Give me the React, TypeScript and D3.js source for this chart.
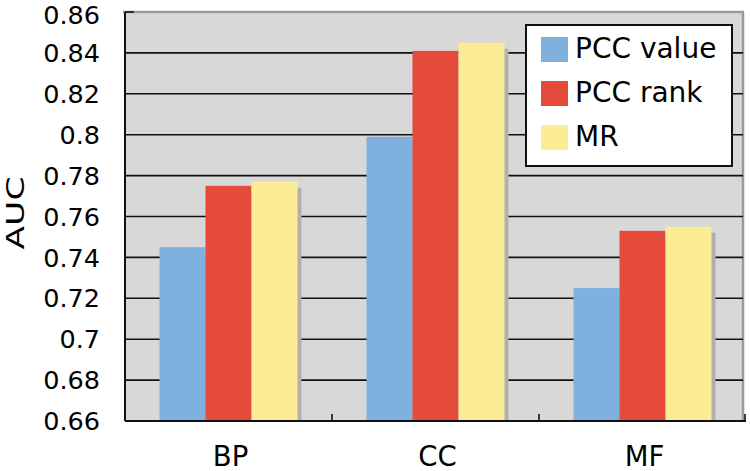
import React from "react";
import * as d3 from "d3";

const categories = ["BP", "CC", "MF"];
const seriesNames = ["PCC value", "PCC rank", "MR"];
const pccValue = [0.745, 0.799, 0.725];
const pccRank = [0.775, 0.841, 0.753];
const mrValues = [0.777, 0.845, 0.755];
const yTicks = [0.66, 0.68, 0.7, 0.72, 0.74, 0.76, 0.78, 0.8, 0.82, 0.84, 0.86];
const seriesColors = ["#80B1DE", "#E44B3B", "#FBEC95"];

const W = 750;
const H = 471;
const X0 = 125;
const X1 = 746;
const YB = 421;
const YT = 12;
const FONT = "'DejaVu Sans', sans-serif";

export default function App() {
  const seriesValues = [pccValue, pccRank, mrValues];
  const x = d3.scaleBand<string>().domain(categories).range([X0, X1]).paddingInner(1 / 3).paddingOuter(1 / 6);
  const xs = d3.scaleBand<string>().domain(seriesNames).range([0, x.bandwidth()]).padding(0);
  const y = d3.scaleLinear().domain([0.66, 0.86]).range([YB, YT]);

  const bars: { cat: string; s: string; v: number; c: string }[] = [];
  categories.forEach((cat, i) => {
    seriesNames.forEach((s, j) => {
      bars.push({ cat, s, v: seriesValues[j][i], c: seriesColors[j] });
    });
  });

  const step = x.step();
  const boundaries = categories.map((_, i) => X0 + step * (i + 1));

  return (
    <svg width={W} height={H} style={{ position: "absolute", left: 0, top: 0, background: "#fff" }}>
      {/* plot background */}
      <rect x={X0} y={YT} width={X1 - X0 - 2} height={YB - YT} fill="#D8D8D8" />
      {/* gray frame top & right */}
      <line x1={X0 - 2} x2={X1 - 2} y1={YT} y2={YT} stroke="#9A9A9A" strokeWidth={2.5} />
      <line x1={X1 - 3} x2={X1 - 3} y1={YT} y2={YB} stroke="#9A9A9A" strokeWidth={2.5} />
      {/* gridlines */}
      {yTicks.filter((t) => t > 0.661 && t < 0.859).map((t) => (
        <line key={t} x1={X0} x2={X1 - 3} y1={y(t)} y2={y(t)} stroke="#111" strokeWidth={1.6} />
      ))}
      {/* top tick */}
      <line x1={X0} x2={X0 + 9} y1={y(0.86)} y2={y(0.86)} stroke="#111" strokeWidth={1.6} />
      {/* bar shadows */}
      {bars.map((b) => (
        <rect key={"sh" + b.cat + b.s} x={(x(b.cat) as number) + (xs(b.s) as number) + 4} y={y(b.v) + 6}
          width={xs.bandwidth()} height={YB - y(b.v) - 6} fill="#B0B0B0" />
      ))}
      {/* bars */}
      {bars.map((b) => (
        <rect key={b.cat + b.s} x={(x(b.cat) as number) + (xs(b.s) as number)} y={y(b.v)}
          width={xs.bandwidth()} height={YB - y(b.v)} fill={b.c} />
      ))}
      {/* axes */}
      <line x1={X0} x2={X0} y1={YT} y2={YB} stroke="#111" strokeWidth={2} />
      <line x1={X0} x2={X1} y1={YB} y2={YB} stroke="#111" strokeWidth={2} />
      {boundaries.map((bx, i) => (
        <line key={i} x1={Math.min(bx, X1 - 1)} x2={Math.min(bx, X1 - 1)} y1={YB} y2={YB - 7} stroke="#111" strokeWidth={1.6} />
      ))}
      {/* y tick labels */}
      {yTicks.map((t) => (
        <text key={"l" + t} x={100} y={Math.max(y(t), 15)} dy="0.36em" textAnchor="end" fontFamily={FONT} fontSize={25.5} fill="#000">
          {d3.format("")(+t.toFixed(2))}
        </text>
      ))}
      {/* x labels */}
      {categories.map((c) => (
        <text key={"c" + c} x={(x(c) as number) + x.bandwidth() / 2 + 2} y={466} textAnchor="middle" fontFamily={FONT} fontSize={27.5} fill="#000">
          {c}
        </text>
      ))}
      {/* y axis title */}
      <text transform="translate(24,213) rotate(-90)" textAnchor="middle" fontFamily={FONT} fontSize={24}
        textLength={73} lengthAdjust="spacingAndGlyphs" fill="#000">
        AUC
      </text>
      {/* legend */}
      <rect x={526} y={25} width={206} height={141} fill="#fff" stroke="#111" strokeWidth={2} />
      {seriesNames.map((s, j) => (
        <g key={"lg" + s}>
          <rect x={541} y={37 + j * 44} width={27} height={25} fill={seriesColors[j]} />
          <text x={575} y={58 + j * 44} fontFamily={FONT} fontSize={28} fill="#000">
            {s}
          </text>
        </g>
      ))}
    </svg>
  );
}
